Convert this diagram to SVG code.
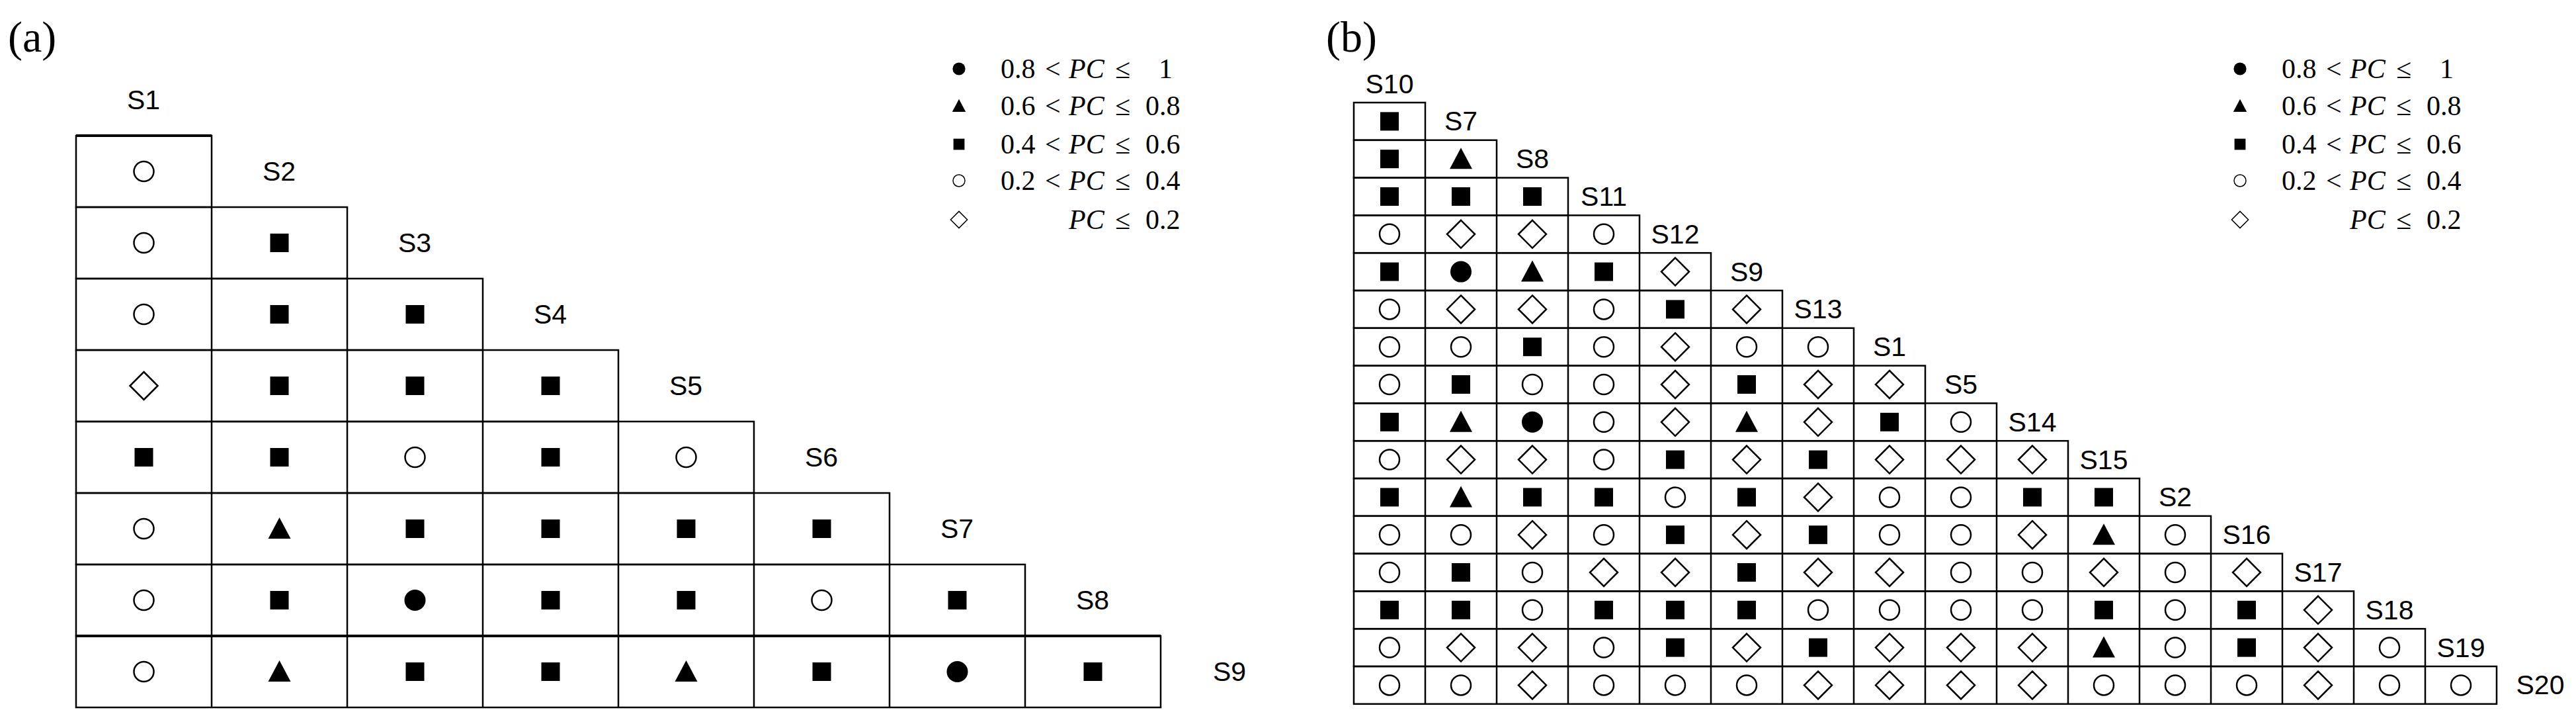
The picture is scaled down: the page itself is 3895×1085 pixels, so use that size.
<svg xmlns="http://www.w3.org/2000/svg" xmlns:xlink="http://www.w3.org/1999/xlink" width="3895" height="1085" viewBox="0 0 3895 1085">
<style>
.g{fill:none;stroke:#000;stroke-width:2.5}
.lb{font-family:"Liberation Sans",Arial,sans-serif;font-size:41px;text-anchor:middle;dominant-baseline:central}
.lg{font-family:"Liberation Serif","Times New Roman",serif;font-size:42px}
.it{font-style:italic}
.pl{font-family:"Liberation Serif","Times New Roman",serif;font-size:66px}
</style>
<defs>
<rect id="s" x="-14" y="-14" width="28" height="28" fill="#000"/>
<circle id="o" r="15" fill="#fff" stroke="#000" stroke-width="2.5"/>
<circle id="c" r="16" fill="#000"/>
<polygon id="t" points="0,-17 17,15 -17,15" fill="#000"/>
<polygon id="d" points="0,-21 21,0 0,21 -21,0" fill="#fff" stroke="#000" stroke-width="2.5"/>
<g id="legend">
<use href="#c" transform="translate(0,104) scale(0.6)"/>
<use href="#t" transform="translate(0,160) scale(0.6)"/>
<use href="#s" transform="translate(0,218) scale(0.6)"/>
<use href="#o" transform="translate(0,273) scale(0.6)"/>
<use href="#d" transform="translate(0,332) scale(0.6)"/>
<g class="lg">
<text y="118"><tspan x="63">0.8</tspan><tspan x="130">&lt;</tspan><tspan x="166" class="it">PC</tspan><tspan x="236">≤</tspan><tspan x="302">1</tspan></text>
<text y="174"><tspan x="63">0.6</tspan><tspan x="130">&lt;</tspan><tspan x="166" class="it">PC</tspan><tspan x="236">≤</tspan><tspan x="282">0.8</tspan></text>
<text y="232"><tspan x="63">0.4</tspan><tspan x="130">&lt;</tspan><tspan x="166" class="it">PC</tspan><tspan x="236">≤</tspan><tspan x="282">0.6</tspan></text>
<text y="287"><tspan x="63">0.2</tspan><tspan x="130">&lt;</tspan><tspan x="166" class="it">PC</tspan><tspan x="236">≤</tspan><tspan x="282">0.4</tspan></text>
<text y="346"><tspan x="166" class="it">PC</tspan><tspan x="236">≤</tspan><tspan x="282">0.2</tspan></text>
</g>
</g>
</defs>
<rect width="3895" height="1085" fill="#fff"/>
<g id="panel-a">
<text class="pl" x="12" y="78">(a)</text>
<use href="#legend" x="1450" y="0"/>
<g id="grid-a" class="g">
<rect x="115" y="205" width="205" height="108"/>
<rect x="115" y="313" width="410" height="108"/>
<rect x="115" y="421" width="615" height="108"/>
<rect x="115" y="529" width="820" height="108"/>
<rect x="115" y="637" width="1025" height="108"/>
<rect x="115" y="745" width="1230" height="108"/>
<rect x="115" y="853" width="1435" height="108"/>
<rect x="115" y="961" width="1640" height="108"/>
<path d="M320 313V1069M525 421V1069M730 529V1069M935 637V1069M1140 745V1069M1345 853V1069M1550 961V1069"/>
<path d="M115 205H320M115 961H1755" stroke-width="4"/>
</g>
<g id="labels-a" class="lb">
<text x="217" y="151">S1</text><text x="422" y="259">S2</text><text x="627" y="367">S3</text><text x="832" y="475">S4</text>
<text x="1037" y="583">S5</text><text x="1242" y="691">S6</text><text x="1447" y="799">S7</text><text x="1652" y="907">S8</text>
<text x="1859" y="1015">S9</text>
</g>
<g id="cells-a">
<use href="#o" x="217.5" y="259"/>
<use href="#o" x="217.5" y="367"/><use href="#s" x="422.5" y="367"/>
<use href="#o" x="217.5" y="475"/><use href="#s" x="422.5" y="475"/><use href="#s" x="627.5" y="475"/>
<use href="#d" x="217.5" y="583"/><use href="#s" x="422.5" y="583"/><use href="#s" x="627.5" y="583"/><use href="#s" x="832.5" y="583"/>
<use href="#s" x="217.5" y="691"/><use href="#s" x="422.5" y="691"/><use href="#o" x="627.5" y="691"/><use href="#s" x="832.5" y="691"/><use href="#o" x="1037.5" y="691"/>
<use href="#o" x="217.5" y="799"/><use href="#t" x="422.5" y="799"/><use href="#s" x="627.5" y="799"/><use href="#s" x="832.5" y="799"/><use href="#s" x="1037.5" y="799"/><use href="#s" x="1242.5" y="799"/>
<use href="#o" x="217.5" y="907"/><use href="#s" x="422.5" y="907"/><use href="#c" x="627.5" y="907"/><use href="#s" x="832.5" y="907"/><use href="#s" x="1037.5" y="907"/><use href="#o" x="1242.5" y="907"/><use href="#s" x="1447.5" y="907"/>
<use href="#o" x="217.5" y="1015"/><use href="#t" x="422.5" y="1015"/><use href="#s" x="627.5" y="1015"/><use href="#s" x="832.5" y="1015"/><use href="#t" x="1037.5" y="1015"/><use href="#s" x="1242.5" y="1015"/><use href="#c" x="1447.5" y="1015"/><use href="#s" x="1652.5" y="1015"/>
</g>
</g>
<g id="panel-b">
<text class="pl" x="2005" y="78">(b)</text>
<use href="#legend" x="3387" y="0"/>
<g id="grid-b" class="g">
<rect x="2047" y="155" width="108" height="56.8"/>
<rect x="2047" y="211.8" width="216" height="56.8"/>
<rect x="2047" y="268.6" width="324" height="56.8"/>
<rect x="2047" y="325.4" width="432" height="56.8"/>
<rect x="2047" y="382.2" width="540" height="56.8"/>
<rect x="2047" y="439" width="648" height="56.8"/>
<rect x="2047" y="495.8" width="756" height="56.8"/>
<rect x="2047" y="552.6" width="864" height="56.8"/>
<rect x="2047" y="609.4" width="972" height="56.8"/>
<rect x="2047" y="666.2" width="1080" height="56.8"/>
<rect x="2047" y="723" width="1188" height="56.8"/>
<rect x="2047" y="779.8" width="1296" height="56.8"/>
<rect x="2047" y="836.6" width="1404" height="56.8"/>
<rect x="2047" y="893.4" width="1512" height="56.8"/>
<rect x="2047" y="950.2" width="1620" height="56.8"/>
<rect x="2047" y="1007" width="1728" height="56.8"/>
<path d="M2155 211.8V1063.8M2263 268.6V1063.8M2371 325.4V1063.8M2479 382.2V1063.8M2587 439V1063.8M2695 495.8V1063.8M2803 552.6V1063.8M2911 609.4V1063.8M3019 666.2V1063.8M3127 723V1063.8M3235 779.8V1063.8M3343 836.6V1063.8M3451 893.4V1063.8M3559 950.2V1063.8M3667 1007V1063.8"/>
</g>
<g id="labels-b" class="lb">
<text x="2101" y="126.6">S10</text><text x="2209" y="183.4">S7</text><text x="2317" y="240.2">S8</text><text x="2425" y="297">S11</text>
<text x="2533" y="353.8">S12</text><text x="2641" y="410.6">S9</text><text x="2749" y="467.4">S13</text><text x="2857" y="524.2">S1</text>
<text x="2965" y="581">S5</text><text x="3073" y="637.8">S14</text><text x="3181" y="694.6">S15</text><text x="3289" y="751.4">S2</text>
<text x="3397" y="808.2">S16</text><text x="3505" y="865">S17</text><text x="3613" y="921.8">S18</text><text x="3721" y="978.6">S19</text>
<text x="3841" y="1035.4">S20</text>
</g>
<g id="cells-b">
<use href="#s" x="2101" y="183.4"/>
<use href="#s" x="2101" y="240.2"/><use href="#t" x="2209" y="240.2"/>
<use href="#s" x="2101" y="297"/><use href="#s" x="2209" y="297"/><use href="#s" x="2317" y="297"/>
<use href="#o" x="2101" y="353.8"/><use href="#d" x="2209" y="353.8"/><use href="#d" x="2317" y="353.8"/><use href="#o" x="2425" y="353.8"/>
<use href="#s" x="2101" y="410.6"/><use href="#c" x="2209" y="410.6"/><use href="#t" x="2317" y="410.6"/><use href="#s" x="2425" y="410.6"/><use href="#d" x="2533" y="410.6"/>
<use href="#o" x="2101" y="467.4"/><use href="#d" x="2209" y="467.4"/><use href="#d" x="2317" y="467.4"/><use href="#o" x="2425" y="467.4"/><use href="#s" x="2533" y="467.4"/><use href="#d" x="2641" y="467.4"/>
<use href="#o" x="2101" y="524.2"/><use href="#o" x="2209" y="524.2"/><use href="#s" x="2317" y="524.2"/><use href="#o" x="2425" y="524.2"/><use href="#d" x="2533" y="524.2"/><use href="#o" x="2641" y="524.2"/><use href="#o" x="2749" y="524.2"/>
<use href="#o" x="2101" y="581"/><use href="#s" x="2209" y="581"/><use href="#o" x="2317" y="581"/><use href="#o" x="2425" y="581"/><use href="#d" x="2533" y="581"/><use href="#s" x="2641" y="581"/><use href="#d" x="2749" y="581"/><use href="#d" x="2857" y="581"/>
<use href="#s" x="2101" y="637.8"/><use href="#t" x="2209" y="637.8"/><use href="#c" x="2317" y="637.8"/><use href="#o" x="2425" y="637.8"/><use href="#d" x="2533" y="637.8"/><use href="#t" x="2641" y="637.8"/><use href="#d" x="2749" y="637.8"/><use href="#s" x="2857" y="637.8"/><use href="#o" x="2965" y="637.8"/>
<use href="#o" x="2101" y="694.6"/><use href="#d" x="2209" y="694.6"/><use href="#d" x="2317" y="694.6"/><use href="#o" x="2425" y="694.6"/><use href="#s" x="2533" y="694.6"/><use href="#d" x="2641" y="694.6"/><use href="#s" x="2749" y="694.6"/><use href="#d" x="2857" y="694.6"/><use href="#d" x="2965" y="694.6"/><use href="#d" x="3073" y="694.6"/>
<use href="#s" x="2101" y="751.4"/><use href="#t" x="2209" y="751.4"/><use href="#s" x="2317" y="751.4"/><use href="#s" x="2425" y="751.4"/><use href="#o" x="2533" y="751.4"/><use href="#s" x="2641" y="751.4"/><use href="#d" x="2749" y="751.4"/><use href="#o" x="2857" y="751.4"/><use href="#o" x="2965" y="751.4"/><use href="#s" x="3073" y="751.4"/><use href="#s" x="3181" y="751.4"/>
<use href="#o" x="2101" y="808.2"/><use href="#o" x="2209" y="808.2"/><use href="#d" x="2317" y="808.2"/><use href="#o" x="2425" y="808.2"/><use href="#s" x="2533" y="808.2"/><use href="#d" x="2641" y="808.2"/><use href="#s" x="2749" y="808.2"/><use href="#o" x="2857" y="808.2"/><use href="#o" x="2965" y="808.2"/><use href="#d" x="3073" y="808.2"/><use href="#t" x="3181" y="808.2"/><use href="#o" x="3289" y="808.2"/>
<use href="#o" x="2101" y="865"/><use href="#s" x="2209" y="865"/><use href="#o" x="2317" y="865"/><use href="#d" x="2425" y="865"/><use href="#d" x="2533" y="865"/><use href="#s" x="2641" y="865"/><use href="#d" x="2749" y="865"/><use href="#d" x="2857" y="865"/><use href="#o" x="2965" y="865"/><use href="#o" x="3073" y="865"/><use href="#d" x="3181" y="865"/><use href="#o" x="3289" y="865"/><use href="#d" x="3397" y="865"/>
<use href="#s" x="2101" y="921.8"/><use href="#s" x="2209" y="921.8"/><use href="#o" x="2317" y="921.8"/><use href="#s" x="2425" y="921.8"/><use href="#s" x="2533" y="921.8"/><use href="#s" x="2641" y="921.8"/><use href="#o" x="2749" y="921.8"/><use href="#o" x="2857" y="921.8"/><use href="#o" x="2965" y="921.8"/><use href="#o" x="3073" y="921.8"/><use href="#s" x="3181" y="921.8"/><use href="#o" x="3289" y="921.8"/><use href="#s" x="3397" y="921.8"/><use href="#d" x="3505" y="921.8"/>
<use href="#o" x="2101" y="978.6"/><use href="#d" x="2209" y="978.6"/><use href="#d" x="2317" y="978.6"/><use href="#o" x="2425" y="978.6"/><use href="#s" x="2533" y="978.6"/><use href="#d" x="2641" y="978.6"/><use href="#s" x="2749" y="978.6"/><use href="#d" x="2857" y="978.6"/><use href="#d" x="2965" y="978.6"/><use href="#d" x="3073" y="978.6"/><use href="#t" x="3181" y="978.6"/><use href="#o" x="3289" y="978.6"/><use href="#s" x="3397" y="978.6"/><use href="#d" x="3505" y="978.6"/><use href="#o" x="3613" y="978.6"/>
<use href="#o" x="2101" y="1035.4"/><use href="#o" x="2209" y="1035.4"/><use href="#d" x="2317" y="1035.4"/><use href="#o" x="2425" y="1035.4"/><use href="#o" x="2533" y="1035.4"/><use href="#o" x="2641" y="1035.4"/><use href="#d" x="2749" y="1035.4"/><use href="#d" x="2857" y="1035.4"/><use href="#d" x="2965" y="1035.4"/><use href="#d" x="3073" y="1035.4"/><use href="#o" x="3181" y="1035.4"/><use href="#o" x="3289" y="1035.4"/><use href="#o" x="3397" y="1035.4"/><use href="#d" x="3505" y="1035.4"/><use href="#o" x="3613" y="1035.4"/><use href="#o" x="3721" y="1035.4"/>
</g>
</g>
</svg>
